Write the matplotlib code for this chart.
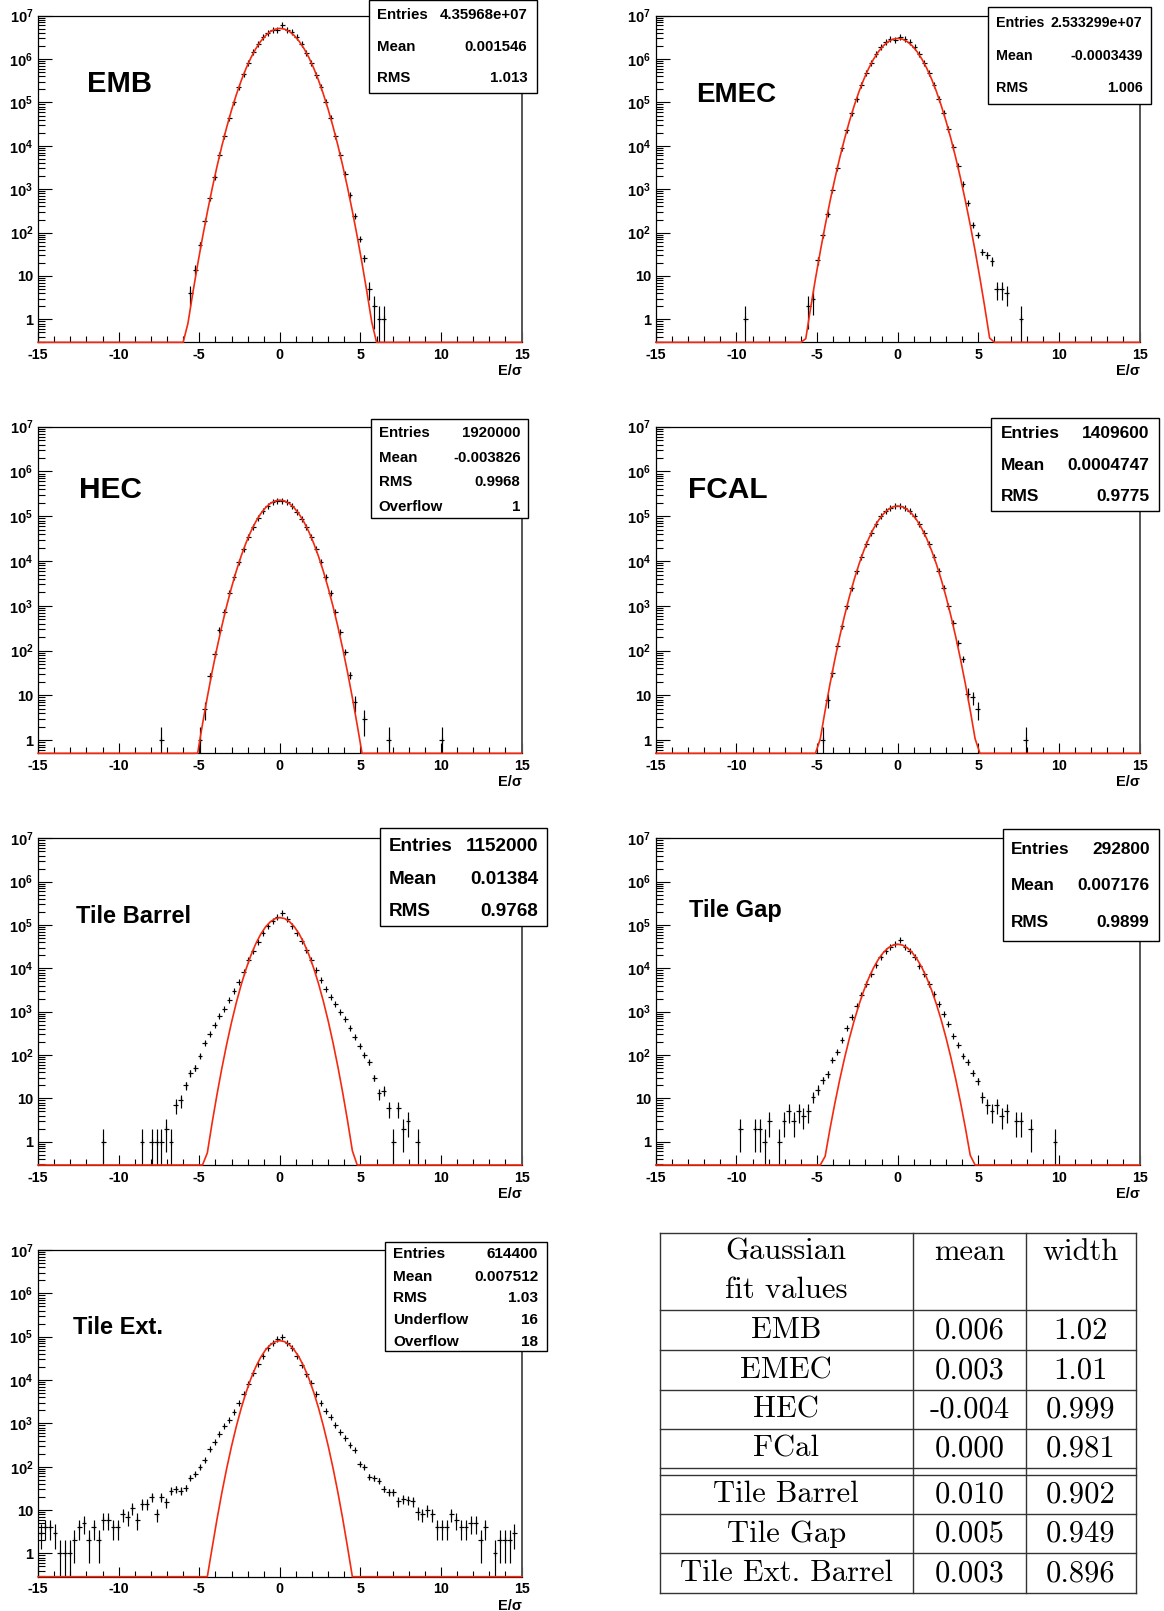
import numpy as np
import matplotlib
matplotlib.use("Agg")
import matplotlib.pyplot as plt
from matplotlib.lines import Line2D
from matplotlib.patches import Rectangle
from matplotlib.ticker import LogLocator, MultipleLocator, NullFormatter

plt.rcParams['font.family'] = ['Liberation Sans', 'DejaVu Sans']
plt.rcParams['mathtext.fontset'] = 'custom'
plt.rcParams['mathtext.bf'] = 'Liberation Sans:bold'
plt.rcParams['mathtext.rm'] = 'Liberation Sans:bold'

W, H = 1164, 1611
BIN = 0.3
RED = '#f5290f'

# histogram contents: centre of first bin + counts of consecutive 0.3 wide bins (0 = empty)
emb_start = -5.55
emb_counts = [4, 14, 52, 186, 610, 1950, 6100, 16400, 43600, 100000, 226000, 443000,
              830000, 1420000, 2260000, 3160000, 4000000, 4600000, 4600000, 6000000,
              4800000, 4200000, 3300000, 2260000, 1400000, 830000, 440000, 226000, 100000,
              44000, 17000, 6200, 2260, 730, 235, 72, 26, 5, 2, 1, 1]

emec_start = -9.45
emec_counts = [1, 0, 0, 0, 0, 0, 0, 0, 0, 0, 0, 0, 0,
               2, 3, 23, 87, 275, 966, 3000, 8900, 23400, 56000, 120000, 250000, 470000,
               830000, 1300000, 1870000, 2450000, 2900000, 2800000, 3300000, 2900000,
               2500000, 1870000, 1300000, 800000, 470000, 250000, 120000, 56000, 24000,
               9600, 3500, 1300, 475, 150, 88, 36, 30, 22, 5, 5, 4, 0, 0, 1]

hec_start = -7.35
hec_counts = [1, 0, 0, 0, 0, 0, 0, 0,
              1, 5, 27, 83, 290, 745, 1900, 4360, 9700, 18600, 35000, 59000, 90000,
              134000, 170000, 205000, 224000, 224000, 205000, 170000, 127000, 89000,
              57000, 35000, 18600, 9300, 4360, 1900, 720, 257, 95, 28, 7, 0, 3,
              0, 0, 0, 0, 1, 0, 0, 0, 0, 0, 0, 0, 0, 0, 0, 1]

fcal_start = -4.65
fcal_counts = [1, 8, 32, 127, 346, 1000, 2460, 6000, 12600, 24000, 43000, 67000, 100000,
               130000, 155000, 166000, 166000, 155000, 130000, 100000, 66000, 42000,
               24000, 12600, 6000, 2450, 1000, 410, 150, 64, 11, 9, 5,
               0, 0, 0, 0, 0, 0, 0, 0, 0, 1]

tb_start = -10.95
tb_counts = [1, 0, 0, 0, 0, 0, 0, 0, 1, 0, 1, 1, 1, 2, 1, 7, 9, 20, 38, 51, 97, 193, 300,
             484, 810, 1130, 1860, 3000, 4900, 8300, 15500, 25500, 41000, 64000, 95000,
             126000, 156000, 186000, 135000, 96000, 66000, 43000, 26000, 15500, 9100,
             5400, 3340, 2200, 1480, 1000, 690, 427, 255, 164, 100, 68, 30, 13, 15, 6,
             1, 6, 2, 3, 0, 1]

tg_start = -9.75
tg_counts = [2, 0, 0, 2, 2, 1, 3, 0, 1, 3, 5, 3, 5, 4, 5, 11, 16, 26, 36, 76, 120, 223,
             420, 755, 1380, 2430, 4270, 7300, 12000, 17900, 25500, 31600, 36500,
             44000, 31600, 25500, 17900, 11500, 7300, 4270, 2500, 1500, 870, 510, 280,
             170, 97, 68, 39, 25, 11, 7, 5, 7, 4, 5, 0, 3, 3, 0, 2, 0, 0, 0, 0, 1]

te_start = -14.85
te_counts = [3, 4, 4, 3, 1, 1, 1, 2, 4, 5, 2, 4, 2, 6, 6, 4, 4, 8, 7, 11, 6, 14, 14, 20, 8,
             20, 15, 28, 30, 28, 33, 56, 68, 100, 142, 250, 380, 570, 870, 1200, 1870,
             2900, 4750, 8100, 14200, 23400, 36500, 54000, 70000, 89000,
             96000, 72000, 56000, 36500, 22000, 13700, 8400, 4750, 3000, 1920, 1380, 910,
             640, 470, 316, 243, 115, 97, 59, 54, 48, 31, 26, 26, 16, 18, 17, 16, 9, 8,
             10, 8, 4, 4, 4, 8, 6, 4, 4, 5, 5, 2, 4, 0, 1, 2, 2, 2, 3, 0]

# gaussian fits (table values) and fitted peak heights
fit_names = ['EMB', 'EMEC', 'HEC', 'FCal', 'Tile Barrel', 'Tile Gap', 'Tile Ext. Barrel']
fit_mean = ['0.006', '0.003', '-0.004', '0.000', '0.010', '0.005', '0.003']
fit_width = ['1.02', '1.01', '0.999', '0.981', '0.902', '0.949', '0.896']
fit_peak = [5.1e6, 3.0e6, 2.3e5, 1.7e5, 1.48e5, 3.6e4, 8.1e4]

# stat boxes
emb_stats = [('Entries', '4.35968e+07'), ('Mean', '0.001546'), ('RMS', '1.013')]
emec_stats = [('Entries', '2.533299e+07'), ('Mean', '-0.0003439'), ('RMS', '1.006')]
hec_stats = [('Entries', '1920000'), ('Mean', '-0.003826'), ('RMS', '0.9968'), ('Overflow', '1')]
fcal_stats = [('Entries', '1409600'), ('Mean', '0.0004747'), ('RMS', '0.9775')]
tb_stats = [('Entries', '1152000'), ('Mean', '0.01384'), ('RMS', '0.9768')]
tg_stats = [('Entries', '292800'), ('Mean', '0.007176'), ('RMS', '0.9899')]
te_stats = [('Entries', '614400'), ('Mean', '0.007512'), ('RMS', '1.03'),
            ('Underflow', '16'), ('Overflow', '18')]

titles = ['EMB', 'EMEC', 'HEC', 'FCAL', 'Tile Barrel', 'Tile Gap', 'Tile Ext.']
xticks = [-15, -10, -5, 0, 5, 10, 15]
decades = [0, 1, 2, 3, 4, 5, 6, 7]

# layout in pixels (left, top, right, bottom)
LC = (38.1, 521.6)
RC = (655.8, 1139.6)
ROWS = [(15.7, 342.3), (426.7, 753.3), (838.3, 1165.0), (1250.0, 1576.7)]

panels = [
    dict(start=emb_start, counts=emb_counts, stats=emb_stats, col=LC, row=0, ymin=0.295,
         tpos=(86.9, 91.7), tsize=21, box=(369, 0, 536.5, 93.3),
         rows=[15, 46.7, 77.7], tx=(377.4, 527.2), fs=10.8),
    dict(start=emec_start, counts=emec_counts, stats=emec_stats, col=RC, row=0, ymin=0.295,
         tpos=(696.4, 101.7), tsize=20, box=(987.8, 6.7, 1151.4, 104.3),
         rows=[23.3, 56, 88.3], tx=(995.7, 1142.4), fs=10.3),
    dict(start=hec_start, counts=hec_counts, stats=hec_stats, col=LC, row=1, ymin=0.51,
         tpos=(79.5, 498.3), tsize=21.5, box=(371, 419.3, 528.3, 518.3),
         rows=[432.7, 457.7, 481.7, 506.7], tx=(378.5, 520.5), fs=10.8),
    dict(start=fcal_start, counts=fcal_counts, stats=fcal_stats, col=RC, row=1, ymin=0.51,
         tpos=(688, 498.3), tsize=21.5, box=(991.4, 417.7, 1158.6, 511),
         rows=[434, 465, 496.7], tx=(1001, 1149.6), fs=12.5),
    dict(start=tb_start, counts=tb_counts, stats=tb_stats, col=LC, row=2, ymin=0.29,
         tpos=(75.8, 923.3), tsize=17, box=(380.3, 827.7, 546.8, 925.7),
         rows=[846.7, 880, 911], tx=(389.2, 538.3), fs=13.6),
    dict(start=tg_start, counts=tg_counts, stats=tg_stats, col=RC, row=2, ymin=0.29,
         tpos=(689.2, 916.5), tsize=17, box=(1002.9, 829, 1158.6, 941),
         rows=[849.3, 886, 922.7], tx=(1011.2, 1149.6), fs=12.4),
    dict(start=te_start, counts=te_counts, stats=te_stats, col=LC, row=3, ymin=0.29,
         tpos=(73.3, 1334), tsize=17, box=(384.8, 1242.3, 546.8, 1350.7),
         rows=[1254.3, 1276.7, 1298.3, 1320, 1341.7], tx=(392.9, 538.3), fs=11.1),
]


def fx(x):
    return x / W


def fy(y):
    return 1 - y / H


fig = plt.figure(figsize=(W / 100, H / 100), dpi=100)

for i, p in enumerate(panels):
    l, r = p['col']
    t, b = ROWS[p['row']]
    ax = fig.add_axes([fx(l), fy(b), (r - l) / W, (b - t) / H])
    ymin = p['ymin']

    n = np.array(p['counts'], dtype=float)
    x = p['start'] + BIN * np.arange(len(n))
    m = n > 0
    x, n = x[m], n[m]
    err = np.sqrt(n)
    lo = n - np.maximum(n - err, 1e-3)
    ax.errorbar(x, n, xerr=BIN / 2, yerr=[lo, err], fmt='none', ecolor='black',
                elinewidth=0.85, capsize=0, zorder=2)
    ax.plot(x, n, ls='none', marker='|', ms=4, mew=0.85, color='black', zorder=2)

    xf = np.linspace(-15, 15, 101)
    yf = fit_peak[i] * np.exp(-0.5 * ((xf - float(fit_mean[i])) / float(fit_width[i])) ** 2)
    ax.plot(xf, np.maximum(yf, ymin), color=RED, lw=1.2, zorder=3, clip_on=False)

    ax.set_xlim(-15, 15)
    ax.set_yscale('log')
    ax.set_ylim(ymin, 1e7)
    ax.set_xticks(xticks)
    ax.set_xticklabels([str(v) for v in xticks], fontweight='bold')
    ax.xaxis.set_minor_locator(MultipleLocator(1))
    ylab = ['1', '10'] + [r'$\mathbf{10^{%d}}$' % d for d in decades[2:]]
    ax.set_yticks([10.0 ** d for d in decades])
    ax.set_yticklabels(ylab, fontweight='bold')
    ax.yaxis.set_minor_locator(LogLocator(base=10, subs=np.arange(2, 10), numticks=30))
    ax.yaxis.set_minor_formatter(NullFormatter())
    ax.tick_params(axis='x', which='major', direction='in', length=7, width=0.8,
                   pad=4, labelsize=10.3, top=False)
    ax.tick_params(axis='x', which='minor', direction='in', length=4, width=0.8, top=False)
    ax.tick_params(axis='y', which='major', direction='in', length=9.9, width=0.8,
                   pad=3.5, labelsize=10.5, right=False)
    ax.tick_params(axis='y', which='minor', direction='in', length=5, width=0.8, right=False)
    for s in ['left', 'bottom', 'top']:
        ax.spines[s].set_linewidth(0.9)
    ax.spines['right'].set_color('#555555')
    ax.spines['right'].set_linewidth(1.4)

    fig.text(fx(r), fy(b + 29), 'E/σ', ha='right', va='center',
             fontsize=10.5, fontweight='bold')

    tx, ty = p['tpos']
    fig.text(fx(tx), fy(ty), titles[i], ha='left', va='baseline',
             fontsize=p['tsize'], fontweight='bold')

    bl, bt, br, bb = p['box']
    fig.add_artist(Rectangle((fx(bl), fy(bb)), (br - bl) / W, (bb - bt) / H,
                             transform=fig.transFigure, facecolor='white',
                             edgecolor='black', lw=1.0, zorder=5))
    for (lab, val), ry in zip(p['stats'], p['rows']):
        fig.text(fx(p['tx'][0]), fy(ry), lab, ha='left', va='center',
                 fontsize=p['fs'], fontweight='bold', zorder=6)
        fig.text(fx(p['tx'][1]), fy(ry), val, ha='right', va='center',
                 fontsize=p['fs'], fontweight='bold', zorder=6)

# table of fit values
tab_x = [659.6, 912.7, 1026.0, 1135.8]
tab_y = [1232.7, 1310.0, 1350.0, 1390.0, 1429.3, 1468.3, 1475.0, 1514.0, 1553.3, 1592.7]
for xv in tab_x:
    fig.add_artist(Line2D([fx(xv), fx(xv)], [fy(tab_y[0]), fy(tab_y[-1])],
                          transform=fig.transFigure, color='#333333', lw=1.0))
for yv in tab_y:
    fig.add_artist(Line2D([fx(tab_x[0]), fx(tab_x[-1])], [fy(yv), fy(yv)],
                          transform=fig.transFigure, color='#333333', lw=1.0))

cx = [(tab_x[k] + tab_x[k + 1]) / 2 for k in range(3)]
tfont = dict(family='cmr10', fontsize=22, va='baseline', ha='center')
fig.text(fx(cx[0]), fy(1260), 'Gaussian', **tfont)
fig.text(fx(cx[0]), fy(1298.3), 'fit values', **tfont)
fig.text(fx(cx[1]), fy(1260), 'mean', **tfont)
fig.text(fx(cx[2]), fy(1260), 'width', **tfont)
row_bottoms = [1350.0, 1390.0, 1429.3, 1468.3, 1514.0, 1553.3, 1592.7]
for name, mu, wd, rb in zip(fit_names, fit_mean, fit_width, row_bottoms):
    by = rb - 11.7
    fig.text(fx(cx[0]), fy(by), name, **tfont)
    fig.text(fx(cx[1]), fy(by), mu, **tfont)
    fig.text(fx(cx[2]), fy(by), wd, **tfont)

fig.savefig('out.png', dpi=100, facecolor='white')
